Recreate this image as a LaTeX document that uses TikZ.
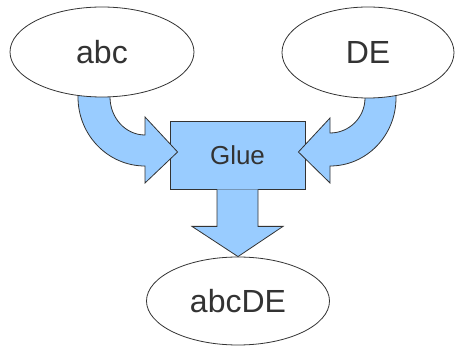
\documentclass[tikz,border=0pt]{standalone}
\usepackage{fontspec}
\setmainfont{Liberation Sans}
\usetikzlibrary{shapes.geometric,calc}
\definecolor{edge}{HTML}{333333}
\definecolor{ink}{HTML}{333333}
\definecolor{sky}{HTML}{99CCFF}
\tikzset{
  oval/.style={ellipse, draw=edge, line width=0.8pt, fill=white, inner sep=0pt,
               text=ink, font=\fontsize{32}{37}\selectfont},
  gluebox/.style={rectangle, draw=edge, line width=0.8pt, fill=sky, inner sep=0pt,
               text=ink, font=\fontsize{26}{31}\selectfont,
               minimum width=135pt, minimum height=68pt},
  blockarrow/.style={draw=edge, line width=0.8pt, fill=sky, line join=miter}
}
\begin{document}
\begin{tikzpicture}[x=1pt,y=-1pt]
  \useasboundingbox (0,0) rectangle (456,347);

  % central box
  \node[gluebox] (glue) at (237.5,155) {Glue};

  % curved block arrow from the left input
  \coordinate (lpiv) at (145,97);
  \draw[blockarrow] ($(lpiv)+(-67,-8)$) -- ($(lpiv)+(-67,0)$)
     arc[start angle=180, end angle=90, x radius=67, y radius=69]
     -- ($(lpiv)+(0,86)$) -- ($(glue.west)+(8,-3)$) -- ($(lpiv)+(0,20)$)
     -- ($(lpiv)+(0,38)$)
     arc[start angle=90, end angle=180, x radius=35, y radius=38]
     -- ($(lpiv)+(-35,-8)$);

  % curved block arrow from the right input
  \coordinate (rpiv) at (330,98);
  \draw[blockarrow] ($(rpiv)+(66,-8)$) -- ($(rpiv)+(66,0)$)
     arc[start angle=0, end angle=90, x radius=66, y radius=68]
     -- ($(rpiv)+(0,85)$) -- ($(glue.east)+(-7,-3)$) -- ($(rpiv)+(0,20)$)
     -- ($(rpiv)+(0,35)$)
     arc[start angle=90, end angle=0, x radius=35, y radius=35]
     -- ($(rpiv)+(35,-8)$);

  % output
  \node[oval, minimum width=183pt, minimum height=88pt] (out) at (238,301) {abcDE};

  % straight block arrow down to the output
  \draw[blockarrow] ($(glue.south)+(-20.5,0)$) -- ($(glue.south)+(-20.5,37)$)
     -- ($(glue.south)+(-45.5,37)$) -- (out.north) -- ($(glue.south)+(45.5,37)$)
     -- ($(glue.south)+(20.5,37)$) -- ($(glue.south)+(20.5,0)$);

  % inputs
  \node[oval, minimum width=184pt, minimum height=90pt] (abc) at (102,52) {abc};
  \node[oval, minimum width=172pt, minimum height=91pt] (de) at (368,52.5) {DE};
\end{tikzpicture}
\end{document}
